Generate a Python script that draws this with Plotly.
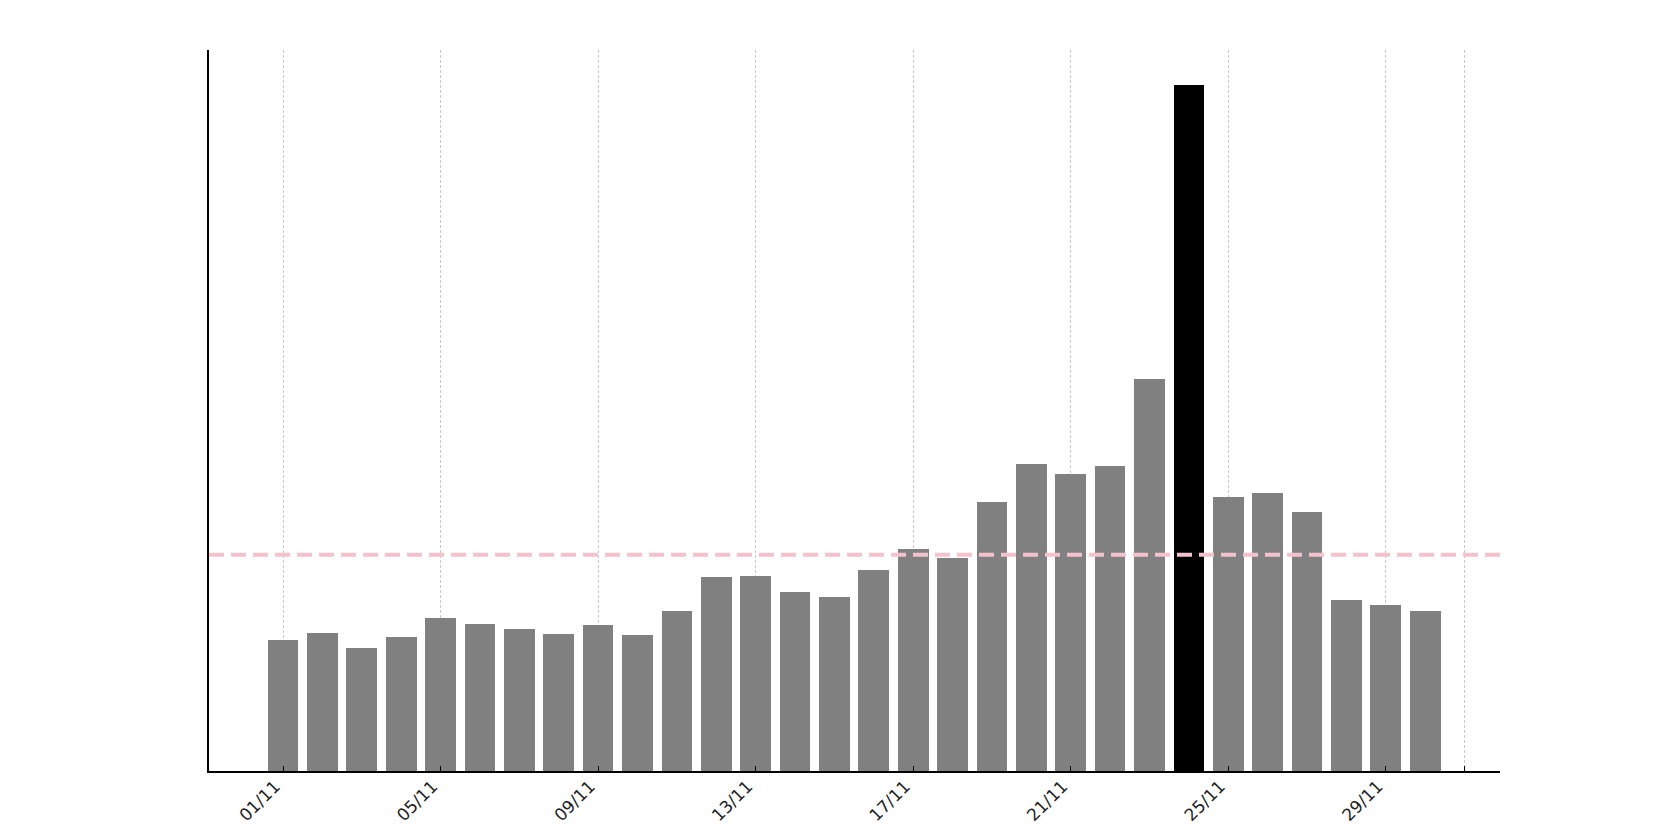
import plotly.graph_objects as go
import pandas as pd

# Data (arbitrary units)
dates = pd.date_range("2024-11-01", "2024-11-30", freq="D")
values = [124, 130, 116, 126, 144, 139, 134, 129, 138, 128,
          151, 183, 184, 169, 164, 190, 209, 201, 254, 290,
          280, 288, 370, 647, 258, 262, 244, 161, 157, 151]
highlight_date = "2024-11-24"
tick_dates = ["2024-11-01", "2024-11-05", "2024-11-09", "2024-11-13",
              "2024-11-17", "2024-11-21", "2024-11-25", "2024-11-29", "2024-12-01"]
tick_labels = ["01/11", "05/11", "09/11", "13/11", "17/11", "21/11", "25/11", "29/11", ""]

colors = ["#000000" if d.strftime("%Y-%m-%d") == highlight_date else "#808080" for d in dates]
mean_val = sum(values) / len(values)

fig = go.Figure()
fig.add_trace(go.Bar(
    x=dates, y=values,
    width=0.78 * 86400000,
    marker=dict(color=colors, line=dict(width=0)),
    showlegend=False,
))

fig.add_shape(type="line", xref="paper", x0=0, x1=1, yref="y", y0=mean_val, y1=mean_val,
              line=dict(color="#f4c2cc", width=4, dash="15px,7px"), layer="above")

fig.update_layout(
    width=1664, height=839,
    margin=dict(l=201, r=172, t=42, b=76),
    paper_bgcolor="white", plot_bgcolor="white",
    font=dict(family="DejaVu Sans", size=17, color="#222222"),
    bargap=0,
)
fig.update_xaxes(
    type="date",
    range=["2024-10-30 02:53", "2024-12-01 21:36"],
    tickvals=tick_dates, ticktext=tick_labels,
    tickangle=-45,
    ticks="inside", ticklen=5, tickcolor="#000000", tickwidth=1,
    ticklabelstandoff=-3, ticklabelshift=-8,
    showline=True, linecolor="#000000", linewidth=1.5,
    showgrid=True, gridcolor="#c8c8c8", gridwidth=1, griddash="3px,2px",
    zeroline=False,
)
fig.update_yaxes(
    range=[0, 680],
    showticklabels=False, ticks="",
    showline=True, linecolor="#000000", linewidth=1.5,
    showgrid=False, zeroline=False,
)

fig.write_html("out.html")
